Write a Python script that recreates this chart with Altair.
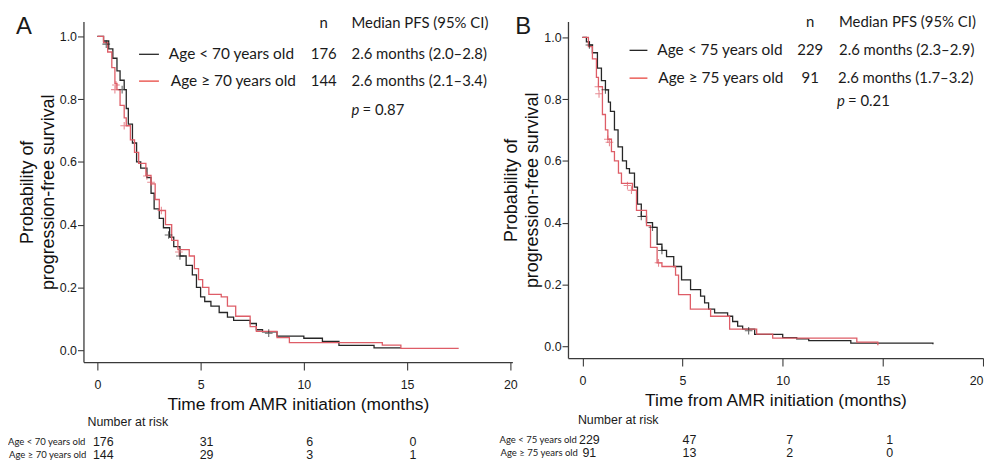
import altair as alt
import pandas as pd

# ---------------- Panel A data (age cut-off 70) ----------------
a_lt_t = [0, 0.3, 0.55, 0.75, 0.95, 1.1, 1.3, 1.4, 1.5, 1.7, 1.9, 2.1, 2.4, 2.6, 2.75, 3.0, 3.2,
          3.5, 3.7, 4.0, 4.3, 4.6, 4.8, 5.0, 5.2, 5.5, 5.9, 6.3, 6.6, 7.4, 7.7, 8.0, 8.7, 10.0,
          10.9, 11.7, 13.4, 14.7]
a_lt_s = [1.0, 0.985, 0.96, 0.93, 0.89, 0.86, 0.83, 0.77, 0.72, 0.66, 0.60, 0.58, 0.55, 0.50,
          0.45, 0.42, 0.39, 0.36, 0.33, 0.30, 0.27, 0.24, 0.20, 0.17, 0.155, 0.14, 0.12, 0.105,
          0.095, 0.085, 0.065, 0.058, 0.045, 0.038, 0.028, 0.015, 0.007, 0.007]
a_ge_t = [0, 0.3, 0.5, 0.7, 0.85, 0.95, 1.1, 1.3, 1.4, 1.6, 1.8, 2.0, 2.35, 2.6, 2.8, 3.0, 3.3,
          3.6, 3.9, 4.45, 4.7, 4.9, 5.1, 5.4, 6.0, 6.3, 6.7, 7.4, 7.7, 8.7, 9.3, 13.8, 14.7, 17.5]
a_ge_s = [1.0, 0.98, 0.95, 0.90, 0.85, 0.83, 0.78, 0.74, 0.715, 0.67, 0.63, 0.595, 0.557, 0.53,
          0.48, 0.445, 0.40, 0.35, 0.32, 0.30, 0.26, 0.225, 0.20, 0.178, 0.17, 0.14, 0.108, 0.075,
          0.06, 0.04, 0.024, 0.016, 0.006, 0.006]
a_lt_cens_t = [0.43, 1.2, 3.45, 4.0, 8.3]
a_lt_cens_s = [0.975, 0.83, 0.367, 0.30, 0.054]
a_ge_cens_t = [0.85, 0.9, 1.3, 2.4, 2.6, 3.1, 3.95]
a_ge_cens_s = [0.83, 0.845, 0.715, 0.555, 0.535, 0.445, 0.313]
a_risk_t = [0, 5, 10, 15]
a_risk_lt = [176, 31, 6, 0]
a_risk_ge = [144, 29, 3, 1]

# ---------------- Panel B data (age cut-off 75) ----------------
b_lt_t = [0, 0.2, 0.35, 0.5, 0.75, 0.95, 1.15, 1.3, 1.4, 1.6, 1.78, 2.0, 2.2, 2.35, 2.6, 2.75,
          2.94, 3.2, 3.5, 3.73, 3.97, 4.2, 4.56, 4.95, 5.4, 5.9, 6.1, 6.3, 6.6, 7.25, 7.5, 7.75,
          8.0, 8.6, 10.0, 10.7, 11.3, 13.4, 17.5]
b_lt_s = [1.0, 0.985, 0.975, 0.95, 0.90, 0.86, 0.83, 0.79, 0.76, 0.70, 0.645, 0.60, 0.575, 0.56,
          0.515, 0.46, 0.42, 0.40, 0.385, 0.33, 0.31, 0.29, 0.258, 0.215, 0.183, 0.162, 0.14,
          0.12, 0.108, 0.097, 0.08, 0.065, 0.055, 0.038, 0.028, 0.024, 0.018, 0.01, 0.006]
b_ge_t = [0, 0.3, 0.5, 0.7, 0.8, 1.0, 1.15, 1.27, 1.45, 1.6, 1.8, 1.95, 2.5, 2.7, 3.2, 3.4, 3.73,
          3.97, 4.65, 4.8, 5.39, 6.4, 7.35, 8.7, 9.5, 13.7, 14.75]
b_ge_s = [1.0, 0.97, 0.93, 0.87, 0.84, 0.75, 0.70, 0.67, 0.63, 0.60, 0.56, 0.527, 0.505, 0.44,
          0.39, 0.32, 0.27, 0.258, 0.23, 0.167, 0.12, 0.097, 0.055, 0.039, 0.026, 0.013, 0.003]
b_lt_cens_t = [0.35, 1.15, 2.94, 3.5, 3.97, 8.3]
b_lt_cens_s = [0.975, 0.83, 0.42, 0.385, 0.31, 0.05]
b_ge_cens_t = [0.8, 0.83, 1.27, 1.35, 2.25, 2.45, 3.8]
b_ge_cens_s = [0.84, 0.817, 0.67, 0.66, 0.52, 0.505, 0.27]
b_risk_t = [0, 5, 10, 15]
b_risk_lt = [229, 47, 7, 1]
b_risk_ge = [91, 13, 2, 0]

BLACK = "#262626"
RED = "#de5d67"
LEGRED = "#e8463f"
AX = "#3a3a3a"
HUM = "Lato"
SANS = "Liberation Sans"
PLUS = "M-1,0L1,0M0,-1L0,1"


def txt(x, y, text, size=15, font=HUM, align="left", baseline="middle", style="normal", color="#1a1a1a"):
    return alt.Chart(pd.DataFrame({"label": [text]})).mark_text(
        align=align, baseline=baseline, fontSize=size, font=font, fontStyle=style, color=color
    ).encode(x=alt.value(x), y=alt.value(y), text="label:N")


def seg(x1, x2, y, color):
    return alt.Chart(pd.DataFrame({"k": [0]})).mark_rule(color=color, strokeWidth=1.3).encode(
        x=alt.value(x1), x2=alt.value(x2), y=alt.value(y))


def panel(cfg):
    xs = alt.Scale(domain=cfg["xdom"], nice=False, zero=False)
    ys = alt.Scale(domain=cfg["ydom"], nice=False, zero=False)
    xenc = alt.X("t:Q", scale=xs, axis=alt.Axis(
        values=[0, 5, 10, 15, 20], title="Time from AMR initiation (months)", tickSize=8,
        labelPadding=9, titlePadding=4, titleFontSize=17.5, labelFontSize=12.5, grid=False))
    yenc = alt.Y("s:Q", scale=ys, axis=alt.Axis(
        values=[0, 0.2, 0.4, 0.6, 0.8, 1.0], format=".1f", title=["Probability of", "progression-free survival"],
        tickSize=6, labelPadding=1, titlePadding=2, titleFontSize=18, titleLineHeight=21,
        labelFontSize=12.5, grid=False))

    curves = pd.concat([
        pd.DataFrame({"t": cfg["lt_t"], "s": cfg["lt_s"], "g": "lt"}),
        pd.DataFrame({"t": cfg["ge_t"], "s": cfg["ge_s"], "g": "ge"}),
    ])
    cens = pd.concat([
        pd.DataFrame({"t": cfg["lt_ct"], "s": cfg["lt_cs"], "g": "lt"}),
        pd.DataFrame({"t": cfg["ge_ct"], "s": cfg["ge_cs"], "g": "ge"}),
    ])
    col = alt.Color("g:N", scale=alt.Scale(domain=["lt", "ge"], range=[BLACK, RED]), legend=None)

    lines = alt.Chart(curves).mark_line(interpolate="step-after", strokeWidth=1.3).encode(
        x=xenc, y=yenc, color=col, order=alt.Order("t:Q"))
    marks = alt.Chart(cens).mark_point(shape=PLUS, size=60, strokeWidth=1.1, filled=False).encode(
        x=alt.X("t:Q", scale=xs), y=alt.Y("s:Q", scale=ys), color=col)

    risk = pd.DataFrame({"t": cfg["risk_t"], "n1": cfg["risk_lt"], "n2": cfg["risk_ge"]})
    r1 = alt.Chart(risk).mark_text(fontSize=12.5, font=SANS, dx=cfg["dx"], color="#1a1a1a").encode(
        x=alt.X("t:Q", scale=xs), y=alt.value(cfg["row1"]), text="n1:Q")
    r2 = alt.Chart(risk).mark_text(fontSize=12.5, font=SANS, dx=cfg["dx"], color="#1a1a1a").encode(
        x=alt.X("t:Q", scale=xs), y=alt.value(cfg["row2"]), text="n2:Q")

    anchor = alt.Chart(pd.DataFrame({"k": [0]})).mark_rule(opacity=0).encode(
        x=alt.value(cfg["anchor_x"]), y=alt.value(cfg["anchor_y"]), y2=alt.value(0))

    L = cfg["L"]
    layers = [
        anchor, lines, marks, r1, r2,
        txt(L["letter"][0], L["letter"][1], cfg["letter"], size=24, font=SANS, align="center",
            baseline="alphabetic"),
        txt(L["n"], L["hy"], "n", align="center"),
        txt(L["med"], L["hy"], "Median PFS (95% CI)"),
        seg(L["seg"][0], L["seg"][1], L["y1"], BLACK),
        seg(L["seg"][0], L["seg"][1], L["y2"], LEGRED),
        txt(L["lab1"], L["y1"], cfg["lab1"], size=15.5),
        txt(L["lab2"], L["y2"], cfg["lab2"], size=15.5),
        txt(L["n"], L["y1"], cfg["n1"], align="center"),
        txt(L["n"], L["y2"], cfg["n2"], align="center"),
        txt(L["m1"], L["y1"], cfg["m1"]),
        txt(L["m2"], L["y2"], cfg["m2"]),
        txt(L["p"], L["py"], "p", style="italic"),
        txt(L["p"] + 11, L["py"], "= " + cfg["p"]),
        txt(L["nar"], cfg["nar_y"], "Number at risk", size=12.5, font=SANS),
        txt(L["rl"], cfg["row1"], cfg["lab1"], size=9.6),
        txt(L["rl"] + 1, cfg["row2"], cfg["lab2"], size=9.6),
    ]
    return alt.layer(*layers).properties(width=cfg["w"], height=cfg["h"])


panelA = panel(dict(
    xdom=[-0.673, 20.1], ydom=[-0.038, 1.047], w=432, h=343,
    lt_t=a_lt_t, lt_s=a_lt_s, ge_t=a_ge_t, ge_s=a_ge_s,
    lt_ct=a_lt_cens_t, lt_cs=a_lt_cens_s, ge_ct=a_ge_cens_t, ge_cs=a_ge_cens_s,
    risk_t=a_risk_t, risk_lt=a_risk_lt, risk_ge=a_risk_ge, dx=6,
    row1=423.5, row2=437, nar_y=403, anchor_x=-76, anchor_y=-12,
    letter="A", lab1="Age <  70 years old", lab2="Age \u2265 70 years old",
    n1="176", n2="144", m1=" 2.6 months (2.0\u20132.8)", m2="2.6 months (2.1\u20133.4)", p="0.87",
    L=dict(letter=(-60, 13), n=242, hy=2, med=270, seg=(56, 76), y1=33, y2=60,
           lab1=86, lab2=88, m1=270, m2=270, p=270, py=89, nar=4, rl=-76),
))

panelB = panel(dict(
    xdom=[-0.72, 20.0], ydom=[-0.0386, 1.051], w=418, h=339,
    lt_t=b_lt_t, lt_s=b_lt_s, ge_t=b_ge_t, ge_s=b_ge_s,
    lt_ct=b_lt_cens_t, lt_cs=b_lt_cens_s, ge_ct=b_ge_cens_t, ge_cs=b_ge_cens_s,
    risk_t=b_risk_t, risk_lt=b_risk_lt, risk_ge=b_risk_ge, dx=7,
    row1=421, row2=434.5, nar_y=401, anchor_x=-69, anchor_y=-12,
    letter="B", lab1="Age <  75 years old", lab2="Age \u2265 75 years old",
    n1="229", n2="91", m1=" 2.6 months (2.3\u20132.9)", m2="2.6 months (1.7\u20133.2)", p="0.21",
    L=dict(letter=(-45, 13), n=244, hy=0, med=273, seg=(62, 80), y1=29, y2=57,
           lab1=90, lab2=91, m1=273, m2=272, p=271, py=80, nar=10, rl=-69),
))

chart = alt.hconcat(panelA, panelB, spacing=56, bounds="flush", padding=0).configure_view(
    stroke=None
).configure_axis(
    domainColor=AX, tickColor=AX, labelColor="#1a1a1a", titleColor="#111111",
    labelFont=SANS, titleFont=SANS, titleFontWeight="normal", domainWidth=1.3, tickWidth=1.1
)

chart.save("out.html", embed_options={"renderer": "svg", "actions": False})
